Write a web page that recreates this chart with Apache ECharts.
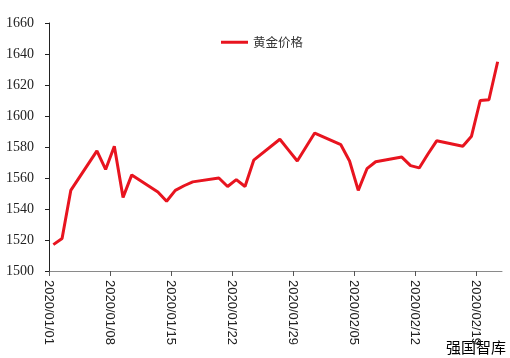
<!DOCTYPE html>
<html>
<head>
<meta charset="utf-8">
<script src="https://cdn.jsdelivr.net/npm/echarts@6/dist/echarts.min.js"></script>
<style>html,body{margin:0;padding:0;background:#fff;}#c{width:510px;height:358px;}</style>
</head>
<body>
<div id="c"></div>
<script>
var seriesName = '黄金价格';
var dates = ['2020/01/01','2020/01/02','2020/01/03','2020/01/06','2020/01/07','2020/01/08','2020/01/09','2020/01/10',
  '2020/01/13','2020/01/14','2020/01/15','2020/01/16','2020/01/17','2020/01/20','2020/01/21','2020/01/22','2020/01/23','2020/01/24',
  '2020/01/27','2020/01/28','2020/01/29','2020/01/30','2020/01/31','2020/02/03','2020/02/04','2020/02/05','2020/02/06','2020/02/07',
  '2020/02/10','2020/02/11','2020/02/12','2020/02/13','2020/02/14','2020/02/17','2020/02/18','2020/02/19','2020/02/20','2020/02/21'];
var prices = [1517,1521,1552,1577.5,1565.5,1580.5,1547.5,1562,
  1551,1545,1552,1555,1557.5,1560,1554.5,1559,1554.5,1571.5,
  1585,1578,1571,1580,1589,1581.5,1571,1552,1566,1570.5,
  1573.5,1568,1566.5,1575.5,1584,1580.5,1587,1610,1610.5,1635];
var startDate = '2020/01/01';
var endDate = '2020/02/22';
var yMin = 1500, yMax = 1660, yStep = 20;

var DAY = 86400000;
function parseD(s){ var p = s.split('/'); return Date.UTC(+p[0], +p[1]-1, +p[2]); }
var t0 = parseD(startDate);
function dayOf(s){ return Math.round((parseD(s) - t0) / DAY); }
function fmtDay(d){
  var dt = new Date(t0 + d * DAY);
  var m = dt.getUTCMonth()+1, dd = dt.getUTCDate();
  return dt.getUTCFullYear() + '/' + (m<10?'0':'') + m + '/' + (dd<10?'0':'') + dd;
}
var pts = dates.map(function(s,i){ return [dayOf(s) + 0.5, prices[i]]; });

var chart = echarts.init(document.getElementById('c'), null, {renderer:'canvas'});
chart.setOption({
  animation:false,
  backgroundColor:'#fff',
  grid:{left:49, right:8, top:23, bottom:87, containLabel:false},
  legend:{
    data:[seriesName], left:216, top:31, icon:'rect', itemWidth:27, itemHeight:3, itemGap:5,
    textStyle:{fontFamily:'Noto Sans CJK SC', fontSize:12.5, color:'#333'}
  },
  xAxis:{
    type:'value', min:0, max:dayOf(endDate), interval:7,
    axisLine:{show:true, lineStyle:{color:'#8a8a8a', width:1}},
    axisTick:{show:true, length:5, lineStyle:{color:'#555'}},
    splitLine:{show:false},
    axisLabel:{rotate:-90, margin:9, fontFamily:'"Liberation Sans", Arial, sans-serif', fontSize:13, color:'#222',
      formatter:function(v){ return fmtDay(v); }, showMaxLabel:false}
  },
  yAxis:{
    type:'value', min:yMin, max:yMax, interval:yStep,
    axisLine:{show:true, lineStyle:{color:'#222', width:1}},
    axisTick:{show:true, length:4, lineStyle:{color:'#222'}},
    splitLine:{show:false},
    axisLabel:{margin:15, fontFamily:'"Liberation Serif", serif', fontSize:14, color:'#222',
      formatter:function(v){ return String(v); }}
  },
  series:[{
    name:seriesName, type:'line', data:pts, showSymbol:false, symbol:'none',
    lineStyle:{color:'#e8141f', width:3}, itemStyle:{color:'#e8141f'}
  }],
  graphic:[{type:'text', right:4, top:340, style:{text:'强国智库', fontFamily:'Noto Sans CJK SC', fontSize:15, fill:'#000'}}]
});
</script>
</body>
</html>
